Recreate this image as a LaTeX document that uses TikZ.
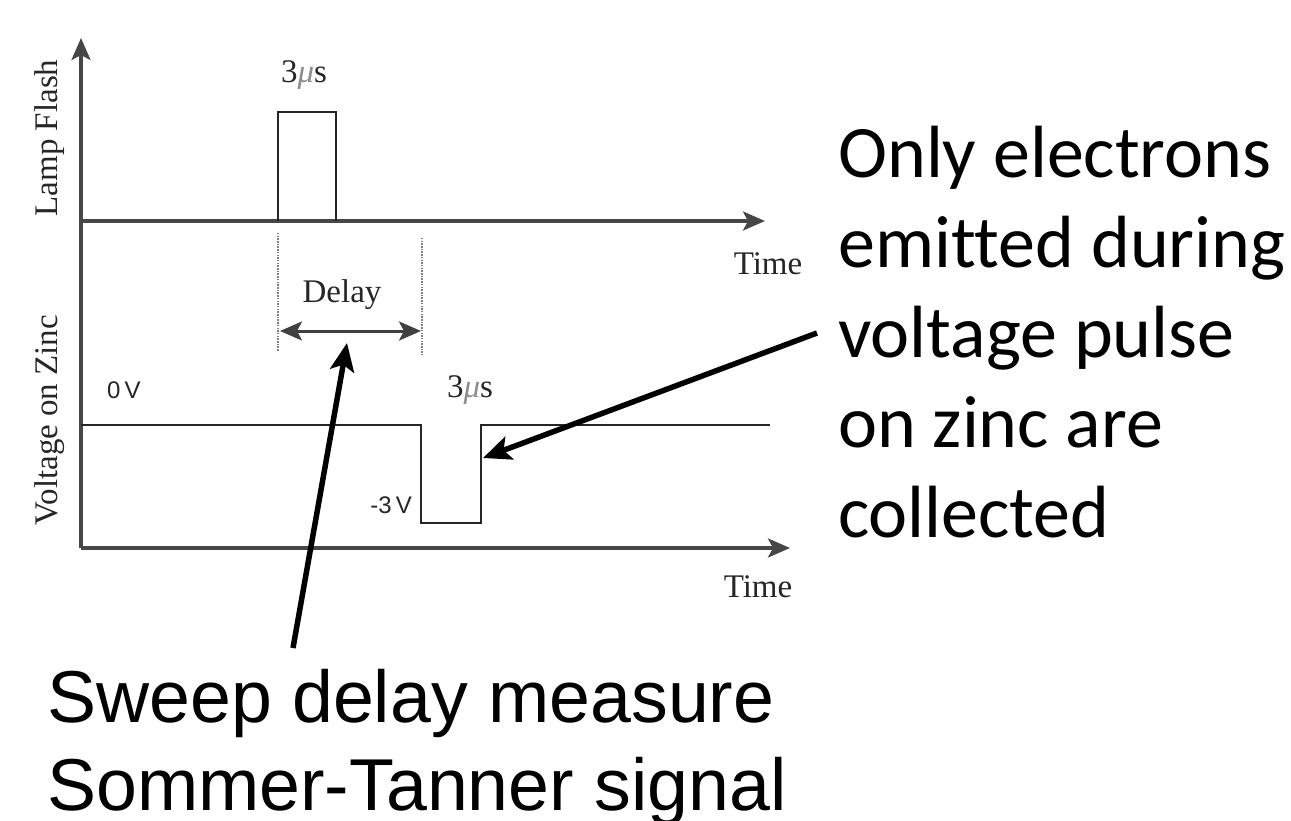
\documentclass[tikz,border=0pt]{standalone}
\usepackage{fontspec}
\setmainfont{Liberation Serif}
\newfontfamily\arialf{Liberation Sans}
\newfontfamily\calib[Ligatures=NoCommon]{Carlito}
\usetikzlibrary{arrows.meta}
\begin{document}
\begin{tikzpicture}[x=1pt,y=-1pt,
  axisline/.style={line width=3.2pt, draw=black!72, -{Stealth[length=22pt,width=19pt,inset=5pt]}},
  sig/.style={line width=2.8pt, draw=black!85},
  guide/.style={line width=2pt, draw=black!50, dash pattern=on 1.5pt off 1.2pt},
  dim/.style={line width=3pt, draw=black!75, {Stealth[length=22pt,width=19pt,inset=5pt]}-{Stealth[length=22pt,width=19pt,inset=5pt]}},
  callout/.style={line width=5.5pt, draw=black, -{Stealth[length=28pt,width=24pt,inset=6pt]}},
  small/.style={inner sep=0pt, font=\fontsize{33}{38}\selectfont, text=black!85},
  sans/.style={inner sep=0pt, font=\arialf\fontsize{24}{28}\selectfont, text=black!85},
  big/.style={inner sep=0pt, align=left, font=\arialf\fontsize{73.5}{88}\selectfont},
  bigc/.style={inner sep=0pt, align=left, font=\calib\fontsize{74}{90}\selectfont}]
\useasboundingbox (0,0) rectangle (1291,821);
% axes
\coordinate (origin) at (81,548);
\coordinate (ytop) at (81,38);
\coordinate (t0) at (81,221);
\coordinate (t1) at (765,221);
\coordinate (b1) at (790,548);
\draw[axisline] (origin) -- (ytop);
\draw[axisline] (t0) -- (t1);
\draw[axisline] (origin) -- (b1);
% lamp pulse
\coordinate (p1) at (278,221);
\coordinate (p2) at (278,112);
\coordinate (p3) at (336,112);
\coordinate (p4) at (336,221);
\draw[sig] (p1) -- (p2) -- (p3) -- (p4);
% voltage trace
\coordinate (v0) at (81,425);
\coordinate (v1) at (421,425);
\coordinate (v2) at (421,523);
\coordinate (v3) at (481,523);
\coordinate (v4) at (481,425);
\coordinate (v5) at (770,425);
\draw[sig] (v0) -- (v1) -- (v2) -- (v3) -- (v4) -- (v5);
% guides
\coordinate (g1a) at (278,233);
\coordinate (g1b) at (278,351);
\coordinate (g2a) at (422,238);
\coordinate (g2b) at (422,355);
\draw[guide] (g1a) -- (g1b);
\draw[guide] (g2a) -- (g2b);
\coordinate (d1) at (280,331);
\coordinate (d2) at (421,331);
\draw[dim] (d1) -- (d2);
% labels
\node[small, rotate=90] (lamp) at (50,138) {Lamp Flash};
\node[small, rotate=90] (volt) at (50,420) {Voltage on Zinc};
\node[small, anchor=base] (mu1) at (304,83) {3{\itshape\color{black!45}μ}s};
\node[small, anchor=base] (mu2) at (470,397) {3{\itshape\color{black!45}μ}s};
\node[small, anchor=base] (time1) at (768,275) {Time};
\node[small, anchor=base] (time2) at (758,597) {Time};
\node[small, anchor=base] (delay) at (342,302) {Delay};
\node[sans, anchor=base west] (zero) at (107,398) {0\,V};
\node[sans, anchor=base east] (minus) at (412,513) {-3\,V};
% annotations
\node[bigc, anchor=base west] (note) at (838,537) {Only electrons\\emitted during\\voltage pulse\\on zinc are\\collected};
\node[big, anchor=base west] (sweep) at (47,810) {Sweep delay measure\\Sommer-Tanner signal};
\coordinate (c1s) at (293,648);
\coordinate (c1e) at (347,343);
\coordinate (c2s) at (817,333);
\coordinate (c2e) at (483,458);
\draw[callout] (c1s) -- (c1e);
\draw[callout] (c2s) -- (c2e);
\end{tikzpicture}
\end{document}
